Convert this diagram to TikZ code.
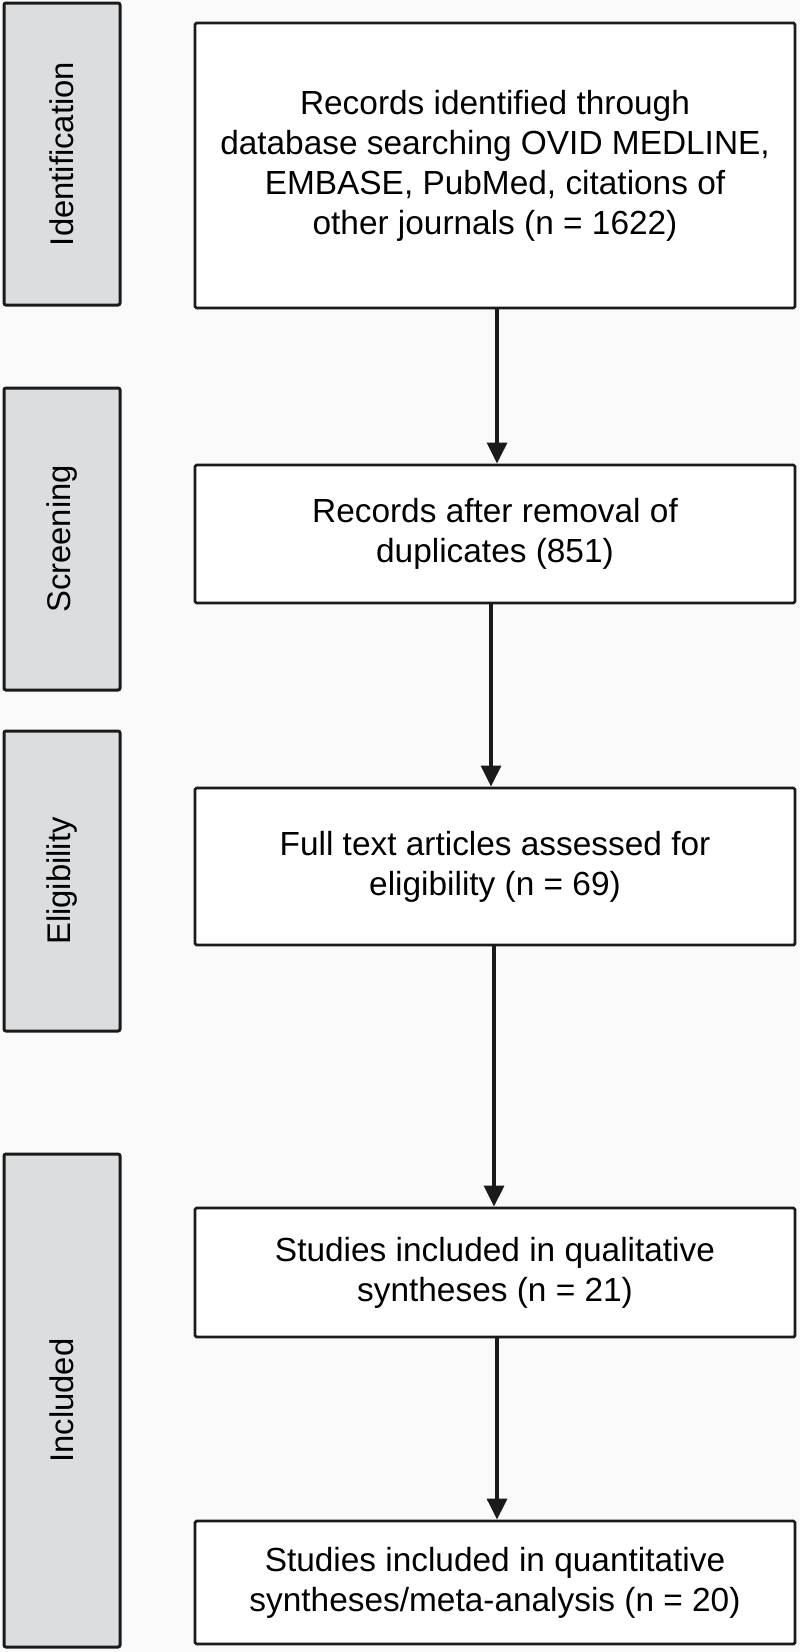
\documentclass[tikz,border=0pt]{standalone}
\usepackage{fontspec}
\setmainfont{Liberation Sans}
\usetikzlibrary{arrows.meta}
\definecolor{bg}{HTML}{FAFAFA}
\definecolor{sidefill}{HTML}{DCDDDF}
\definecolor{ink}{HTML}{1A1A1A}
\begin{document}
\begin{tikzpicture}[x=1pt,y=-1pt,
  mainbox/.style={draw=ink,line width=2.8pt,fill=white,rounded corners=1.5pt,
    minimum width=600pt,inner sep=0pt,align=center,
    font=\fontsize{33.4}{40}\selectfont},
  sidebox/.style={draw=ink,line width=3pt,fill=sidefill,rounded corners=2pt,
    minimum width=116pt,inner sep=0pt},
  sidelabel/.style={rotate=90,font=\fontsize{32.8}{40}\selectfont,inner sep=0pt},
  arr/.style={draw=ink,line width=3.2pt,-{Triangle[width=20pt,length=21pt]}}]
\useasboundingbox[fill=bg] (0,0) rectangle (800,1652);

% side phase boxes
\node[sidebox,minimum height=302pt] (sI) at (62,154) {};
\node[sidelabel] (lI) at (sI.center) {Identification};
\node[sidebox,minimum height=302pt] (sS) at (62,539) {};
\node[sidelabel] (lS) at (sS.center) {Screening};
\node[sidebox,minimum height=300pt] (sE) at (62,881) {};
\node[sidelabel] (lE) at (sE.center) {Eligibility};
\node[sidebox,minimum height=493pt] (sN) at (62,1400.5) {};
\node[sidelabel] (lN) at (sN.center) {Included};

% main boxes
\node[mainbox,minimum height=285pt] (b1) at (495,165.5)
  {Records identified through\\database searching OVID MEDLINE,\\EMBASE, PubMed, citations of\\other journals (n = 1622)};
\node[mainbox,minimum height=138pt] (b2) at (495,534)
  {Records after removal of\\duplicates (851)};
\node[mainbox,minimum height=157pt] (b3) at (495,866.5)
  {Full text articles assessed for\\eligibility (n = 69)};
\node[mainbox,minimum height=129pt] (b4) at (495,1272.5)
  {Studies included in qualitative\\syntheses (n = 21)};
\node[mainbox,minimum height=123pt] (b5) at (495,1582.5)
  {Studies included in quantitative\\syntheses/meta-analysis (n = 20)};

% arrows
\draw[arr] ([xshift=2pt]b1.south) -- ([xshift=2pt]b2.north);
\draw[arr] ([xshift=-4pt]b2.south) -- ([xshift=-4pt]b3.north);
\draw[arr] ([xshift=-1pt]b3.south) -- ([xshift=-1pt]b4.north);
\draw[arr] ([xshift=2pt]b4.south) -- ([xshift=2pt]b5.north);
\end{tikzpicture}
\end{document}
